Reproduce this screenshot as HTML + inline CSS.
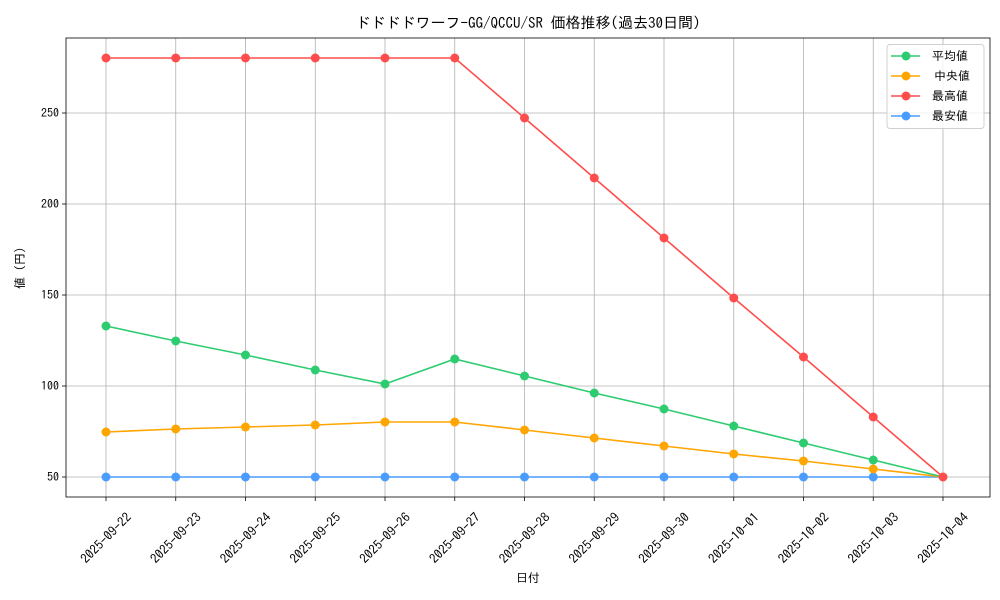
<!DOCTYPE html>
<html><head><meta charset="utf-8"><style>body{margin:0;background:#fff}svg{display:block;font-family:"IPAGothic","Liberation Sans","Noto Sans CJK JP",sans-serif}</style></head><body>
<svg width="1000" height="600" viewBox="0 0 1000 600">
<rect width="1000" height="600" fill="#fff"/>
<text x="528" y="28" font-size="15" text-anchor="middle">ドドドドワーフ-GG/QCCU/SR 価格推移(過去30日間)</text>
<g stroke="#b0b0b0" stroke-width="0.8">
<line x1="106" y1="38" x2="106" y2="497"/><line x1="175.75" y1="38" x2="175.75" y2="497"/><line x1="245.5" y1="38" x2="245.5" y2="497"/><line x1="315.25" y1="38" x2="315.25" y2="497"/><line x1="385" y1="38" x2="385" y2="497"/><line x1="454.75" y1="38" x2="454.75" y2="497"/><line x1="524.5" y1="38" x2="524.5" y2="497"/><line x1="594.25" y1="38" x2="594.25" y2="497"/><line x1="664" y1="38" x2="664" y2="497"/><line x1="733.75" y1="38" x2="733.75" y2="497"/><line x1="803.5" y1="38" x2="803.5" y2="497"/><line x1="873.25" y1="38" x2="873.25" y2="497"/><line x1="943" y1="38" x2="943" y2="497"/>
<line x1="66" y1="477" x2="990" y2="477"/><line x1="66" y1="386" x2="990" y2="386"/><line x1="66" y1="295" x2="990" y2="295"/><line x1="66" y1="204" x2="990" y2="204"/><line x1="66" y1="113" x2="990" y2="113"/>
</g>
<rect x="66" y="38" width="924" height="459" fill="none" stroke="#000" stroke-width="0.8"/>
<g stroke="#000" stroke-width="0.8">
<line x1="62" y1="477" x2="66" y2="477"/><line x1="62" y1="386" x2="66" y2="386"/><line x1="62" y1="295" x2="66" y2="295"/><line x1="62" y1="204" x2="66" y2="204"/><line x1="62" y1="113" x2="66" y2="113"/>
<line x1="106" y1="497" x2="106" y2="501"/><line x1="175.75" y1="497" x2="175.75" y2="501"/><line x1="245.5" y1="497" x2="245.5" y2="501"/><line x1="315.25" y1="497" x2="315.25" y2="501"/><line x1="385" y1="497" x2="385" y2="501"/><line x1="454.75" y1="497" x2="454.75" y2="501"/><line x1="524.5" y1="497" x2="524.5" y2="501"/><line x1="594.25" y1="497" x2="594.25" y2="501"/><line x1="664" y1="497" x2="664" y2="501"/><line x1="733.75" y1="497" x2="733.75" y2="501"/><line x1="803.5" y1="497" x2="803.5" y2="501"/><line x1="873.25" y1="497" x2="873.25" y2="501"/><line x1="943" y1="497" x2="943" y2="501"/>
</g>
<g font-size="12" text-anchor="end">
<text x="59" y="481">50</text><text x="59" y="390">100</text><text x="59" y="299">150</text><text x="59" y="208">200</text><text x="59" y="117">250</text>
</g>
<text transform="translate(24,268) rotate(-90)" font-size="12" text-anchor="middle">値 (円)</text>
<text x="528" y="582" font-size="12" text-anchor="middle">日付</text>
<g font-size="13" text-anchor="middle" dominant-baseline="central">
<text transform="translate(106,538) rotate(-45)">2025-09-22</text>
<text transform="translate(175.75,538) rotate(-45)">2025-09-23</text>
<text transform="translate(245.5,538) rotate(-45)">2025-09-24</text>
<text transform="translate(315.25,538) rotate(-45)">2025-09-25</text>
<text transform="translate(385,538) rotate(-45)">2025-09-26</text>
<text transform="translate(454.75,538) rotate(-45)">2025-09-27</text>
<text transform="translate(524.5,538) rotate(-45)">2025-09-28</text>
<text transform="translate(594.25,538) rotate(-45)">2025-09-29</text>
<text transform="translate(664,538) rotate(-45)">2025-09-30</text>
<text transform="translate(733.75,538) rotate(-45)">2025-10-01</text>
<text transform="translate(803.5,538) rotate(-45)">2025-10-02</text>
<text transform="translate(873.25,538) rotate(-45)">2025-10-03</text>
<text transform="translate(943,538) rotate(-45)">2025-10-04</text>
</g>
<g fill="none" stroke-width="1.6">
<polyline stroke="#4a9cff" points="106,477 175.75,477 245.5,477 315.25,477 385,477 454.75,477 524.5,477 594.25,477 664,477 733.75,477 803.5,477 873.25,477 943,477"/>
<polyline stroke="#ffa500" points="106,432 175.75,429 245.5,427 315.25,425 385,422 454.75,422 524.5,430 594.25,438 664,446 733.75,454 803.5,461 873.25,469 943,477"/>
<polyline stroke="#2ecc71" points="106,326 175.75,341 245.5,355 315.25,370 385,384 454.75,359 524.5,376 594.25,393 664,409 733.75,426 803.5,443 873.25,460 943,477"/>
<polyline stroke="#ff4d4d" points="106,58 175.75,58 245.5,58 315.25,58 385,58 454.75,58 524.5,118 594.25,178 664,238 733.75,298 803.5,357 873.25,417 943,477"/>
</g>
<g fill="#4a9cff"><circle cx="106" cy="477" r="4.5"/><circle cx="175.75" cy="477" r="4.5"/><circle cx="245.5" cy="477" r="4.5"/><circle cx="315.25" cy="477" r="4.5"/><circle cx="385" cy="477" r="4.5"/><circle cx="454.75" cy="477" r="4.5"/><circle cx="524.5" cy="477" r="4.5"/><circle cx="594.25" cy="477" r="4.5"/><circle cx="664" cy="477" r="4.5"/><circle cx="733.75" cy="477" r="4.5"/><circle cx="803.5" cy="477" r="4.5"/><circle cx="873.25" cy="477" r="4.5"/></g>
<g fill="#ffa500"><circle cx="106" cy="432" r="4.5"/><circle cx="175.75" cy="429" r="4.5"/><circle cx="245.5" cy="427" r="4.5"/><circle cx="315.25" cy="425" r="4.5"/><circle cx="385" cy="422" r="4.5"/><circle cx="454.75" cy="422" r="4.5"/><circle cx="524.5" cy="430" r="4.5"/><circle cx="594.25" cy="438" r="4.5"/><circle cx="664" cy="446" r="4.5"/><circle cx="733.75" cy="454" r="4.5"/><circle cx="803.5" cy="461" r="4.5"/><circle cx="873.25" cy="469" r="4.5"/></g>
<g fill="#2ecc71"><circle cx="106" cy="326" r="4.5"/><circle cx="175.75" cy="341" r="4.5"/><circle cx="245.5" cy="355" r="4.5"/><circle cx="315.25" cy="370" r="4.5"/><circle cx="385" cy="384" r="4.5"/><circle cx="454.75" cy="359" r="4.5"/><circle cx="524.5" cy="376" r="4.5"/><circle cx="594.25" cy="393" r="4.5"/><circle cx="664" cy="409" r="4.5"/><circle cx="733.75" cy="426" r="4.5"/><circle cx="803.5" cy="443" r="4.5"/><circle cx="873.25" cy="460" r="4.5"/></g>
<g fill="#ff4d4d"><circle cx="106" cy="58" r="4.5"/><circle cx="175.75" cy="58" r="4.5"/><circle cx="245.5" cy="58" r="4.5"/><circle cx="315.25" cy="58" r="4.5"/><circle cx="385" cy="58" r="4.5"/><circle cx="454.75" cy="58" r="4.5"/><circle cx="524.5" cy="118" r="4.5"/><circle cx="594.25" cy="178" r="4.5"/><circle cx="664" cy="238" r="4.5"/><circle cx="733.75" cy="298" r="4.5"/><circle cx="803.5" cy="357" r="4.5"/><circle cx="873.25" cy="417" r="4.5"/><circle cx="943" cy="477" r="4.5"/></g>
<rect x="887" y="44.5" width="97" height="84" rx="3" fill="#fff" fill-opacity="0.8" stroke="#d0d0d0"/>
<g stroke-width="1.6">
<line x1="891" y1="56" x2="920" y2="56" stroke="#2ecc71"/><circle cx="906" cy="56" r="4.5" fill="#2ecc71"/>
<line x1="891" y1="76" x2="920" y2="76" stroke="#ffa500"/><circle cx="906" cy="76" r="4.5" fill="#ffa500"/>
<line x1="891" y1="96" x2="920" y2="96" stroke="#ff4d4d"/><circle cx="906" cy="96" r="4.5" fill="#ff4d4d"/>
<line x1="891" y1="116" x2="920" y2="116" stroke="#4a9cff"/><circle cx="906" cy="116" r="4.5" fill="#4a9cff"/>
</g>
<g font-size="12"><text x="932" y="60">平均値</text><text x="934" y="80">中央値</text><text x="932" y="100">最高値</text><text x="932" y="120">最安値</text></g>
</svg>
</body></html>
